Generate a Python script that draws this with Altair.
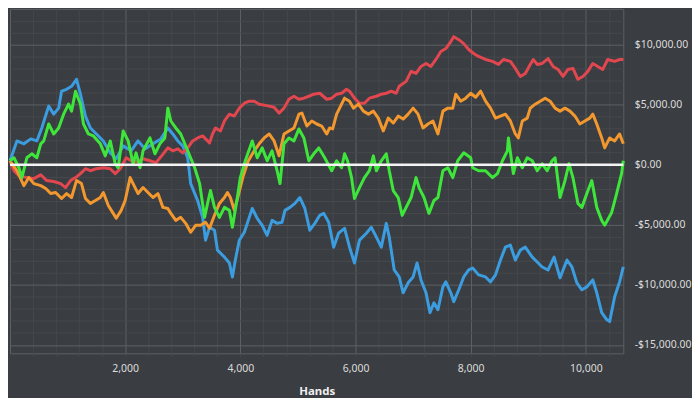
import altair as alt
import pandas as pd

# ---- data (hands played, cumulative winnings in $) ----
red_hands = [0, 69, 155, 293, 414, 534, 638, 759, 879, 965, 1052, 1138, 1224, 1310, 1396, 1500, 1621, 1741, 1827, 1914,
             2017, 2103, 2207, 2310, 2431, 2534, 2620, 2741, 2827, 2914, 3000, 3086, 3172, 3258, 3345, 3465, 3517, 3569,
             3655, 3724, 3810, 3896, 3982, 4069, 4155, 4241, 4327, 4413, 4500, 4586, 4672, 4758, 4844, 4931, 5017, 5103,
             5189, 5275, 5379, 5500, 5586, 5672, 5758, 5844, 5896, 5982, 6069, 6155, 6241, 6362, 6448, 6534, 6620, 6706,
             6758, 6879, 6965, 7051, 7137, 7224, 7310, 7396, 7482, 7568, 7655, 7706, 7793, 7879, 7965, 8051, 8137, 8258,
             8379, 8482, 8569, 8689, 8775, 8862, 8948, 9034, 9086, 9155, 9241, 9344, 9431, 9517, 9603, 9689, 9775, 9862,
             9948, 10034, 10120, 10206, 10293, 10379, 10500, 10586, 10650]
red_values = [330, -500, -910, -1070, -1160, -830, -1320, -1400, -1570, -1900, -1320, -1070, -740, -330, -500, -330, -250,
              -330, -740, -330, 580, 330, 250, 500, 330, 170, 660, 1400, 1160, 1320, 990, 1400, 1980, 2230, 2400, 1820,
              2560, 3060, 2810, 3640, 4210, 4050, 4710, 5120, 5290, 5290, 5040, 4960, 4880, 4790, 4300, 4710, 5450, 5700,
              5450, 5540, 5700, 5870, 5950, 5450, 5540, 5870, 5950, 6280, 6120, 5540, 5120, 5120, 5540, 5700, 5870, 5950,
              6120, 5950, 6530, 6940, 7770, 7600, 8180, 8430, 8180, 8760, 9420, 9670, 10250, 10660, 10410, 10080, 9590,
              9260, 9010, 8760, 8600, 8350, 8760, 8600, 8020, 7350, 7600, 8350, 8760, 8350, 8430, 8840, 8180, 7930, 7350,
              7930, 8020, 7110, 7350, 7770, 8430, 8180, 7930, 8760, 8600, 8760, 8760]

orange_hands = [0, 121, 241, 328, 414, 534, 621, 707, 793, 896, 983, 1069, 1155, 1241, 1310, 1396, 1483, 1569, 1621, 1707,
                1793, 1845, 1931, 2000, 2086, 2172, 2224, 2310, 2396, 2483, 2569, 2655, 2741, 2793, 2879, 2965, 3051, 3138,
                3224, 3310, 3396, 3465, 3551, 3637, 3724, 3776, 3827, 3896, 3965, 4051, 4138, 4241, 4327, 4413, 4500, 4586,
                4672, 4758, 4844, 4931, 5017, 5069, 5155, 5241, 5327, 5413, 5500, 5551, 5603, 5672, 5758, 5810, 5896, 5965,
                6051, 6137, 6224, 6310, 6396, 6482, 6568, 6655, 6741, 6827, 6913, 7000, 7086, 7172, 7258, 7344, 7431, 7517,
                7603, 7689, 7741, 7827, 7913, 8000, 8086, 8172, 8258, 8344, 8431, 8517, 8603, 8689, 8775, 8827, 8896, 8982,
                9034, 9120, 9207, 9293, 9379, 9465, 9551, 9637, 9724, 9810, 9896, 9982, 10068, 10120, 10189, 10275, 10327,
                10413, 10500, 10586, 10650]
orange_values = [330, -500, -1740, -1070, -1570, -1740, -1980, -2400, -2310, -2810, -2400, -2730, -1320, -1570, -2810,
                 -3220, -2980, -2730, -2310, -3390, -4050, -4460, -3800, -2980, -1070, -1900, -2400, -1900, -2310, -2730,
                 -2400, -3550, -3640, -4050, -4630, -4380, -4880, -5620, -5040, -5040, -4790, -5290, -4210, -3220, -2730,
                 -2310, -2730, -3800, -2560, -910, 330, 1160, 1740, 2230, 2560, 1980, 740, 2560, 2810, 3060, 4210, 4300,
                 3220, 3640, 3390, 3220, 2560, 3060, 2980, 4210, 5040, 5540, 5290, 4710, 5040, 4460, 4210, 4460, 3880,
                 2810, 3880, 3470, 4050, 3800, 4210, 4710, 4210, 3060, 3390, 3640, 2560, 4460, 4710, 4710, 5870, 5290,
                 5540, 5950, 5620, 6120, 5290, 4710, 3880, 4050, 4210, 3640, 2560, 2230, 3640, 3880, 4710, 5040, 5290,
                 5540, 5290, 4710, 4460, 4710, 4460, 4050, 3390, 3640, 3880, 4210, 3390, 2230, 1400, 2230, 1980, 2560, 1740]

blue_hands = [0, 121, 241, 362, 466, 552, 672, 759, 845, 896, 983, 1069, 1155, 1224, 1310, 1396, 1500, 1621, 1741, 1845,
              1965, 2103, 2224, 2345, 2483, 2620, 2741, 2827, 2914, 3000, 3086, 3138, 3258, 3345, 3396, 3465, 3551, 3603,
              3724, 3810, 3862, 3913, 3982, 4069, 4155, 4207, 4293, 4379, 4465, 4551, 4638, 4724, 4775, 4862, 4948, 5034,
              5120, 5206, 5293, 5379, 5448, 5534, 5620, 5706, 5810, 5896, 5982, 6069, 6189, 6275, 6362, 6448, 6534, 6586,
              6672, 6758, 6827, 6913, 7000, 7069, 7137, 7224, 7293, 7362, 7431, 7517, 7568, 7655, 7706, 7793, 7879, 7965,
              8034, 8137, 8258, 8344, 8431, 8517, 8603, 8689, 8775, 8862, 8948, 9069, 9155, 9241, 9344, 9448, 9551, 9672,
              9758, 9844, 9931, 10017, 10120, 10189, 10275, 10362, 10413, 10500, 10586, 10650]
blue_values = [330, 1980, 1740, 2150, 1980, 3060, 4880, 4210, 4710, 6120, 6280, 6530, 7110, 5870, 4050, 3060, 2560, 1980,
               990, 500, 1570, 1160, 1980, 1320, 1740, 2150, 3060, 2560, 1980, 1570, 580, -1570, -2980, -4380, -6280,
               -5210, -5450, -7110, -7690, -8180, -9340, -7930, -6280, -5620, -4380, -3640, -4460, -5040, -5870, -4630,
               -4880, -4790, -3800, -3550, -3220, -2730, -3640, -5450, -4880, -4210, -4050, -4790, -6860, -5700, -5290,
               -6860, -8180, -6280, -5700, -5210, -6030, -6860, -4880, -6030, -8760, -9340, -10660, -9830, -9340, -8180,
               -9590, -10660, -12310, -11490, -12070, -10170, -9750, -10660, -11400, -10410, -9340, -8760, -8600, -9170,
               -9340, -9750, -9170, -7930, -6860, -6690, -7930, -7110, -6860, -7690, -8100, -8510, -8760, -7690, -9420,
               -7930, -8510, -9830, -10410, -10170, -9590, -10660, -12310, -12890, -13060, -10990, -9750, -8510]

green_hands = [0, 69, 155, 207, 293, 379, 466, 534, 586, 672, 759, 845, 931, 1017, 1069, 1138, 1224, 1276, 1362, 1448,
               1569, 1655, 1741, 1827, 1879, 1965, 2052, 2138, 2189, 2258, 2310, 2431, 2517, 2603, 2689, 2741, 2793, 2879,
               2965, 3086, 3207, 3293, 3379, 3431, 3482, 3551, 3637, 3724, 3810, 3862, 3948, 4000, 4086, 4207, 4293, 4379,
               4465, 4551, 4638, 4689, 4758, 4844, 4931, 5017, 5103, 5189, 5275, 5362, 5465, 5586, 5672, 5758, 5810, 5862,
               5931, 5982, 6069, 6155, 6241, 6310, 6362, 6448, 6534, 6586, 6655, 6741, 6810, 6879, 6965, 7051, 7103, 7189,
               7275, 7362, 7431, 7517, 7603, 7689, 7775, 7879, 8000, 8034, 8137, 8258, 8379, 8465, 8551, 8637, 8655, 8741,
               8810, 8896, 8982, 9069, 9155, 9241, 9327, 9413, 9465, 9551, 9637, 9706, 9775, 9862, 9931, 10017, 10103,
               10189, 10275, 10327, 10448, 10534, 10620, 10650]
green_values = [330, 580, -250, -1070, 580, 910, 580, 1740, 1980, 3390, 2560, 3060, 4210, 5040, 4460, 6120, 5040, 3390,
                2560, 2400, 1740, 740, 1980, 80, -250, 2810, 1980, 80, 990, -250, 1160, 2230, 910, 1740, 2230, 4710, 3640,
                3060, 2560, 1160, -250, -1570, -4380, -3220, -2150, -3550, -4380, -3550, -3800, -5210, -2730, -1070, 330,
                1980, 580, 1400, 330, 1160, -500, -1570, 1740, 2230, 1980, 2980, 2230, 330, 910, 1400, 580, -500, 330,
                -250, 910, 330, -1070, -2810, -1900, -1070, -500, 740, -500, 330, 910, -500, -2150, -2730, -4210, -3550,
                -2730, -1070, -1900, -2730, -4050, -2980, -2730, -500, -250, -1070, 330, 990, 580, -250, -500, -500, -1070,
                -740, 330, 1160, 2230, -740, 580, -250, 580, 330, -500, 80, -500, 330, 580, -2730, -1320, 80, -1070, -3220,
                -3550, -2400, -1320, -3550, -4630, -5040, -3970, -2400, -740, 330]

# draw order (bottom to top) and colours
series = [
    ("blue", blue_hands, blue_values, "#3b9de0"),
    ("red", red_hands, red_values, "#e2474f"),
    ("orange", orange_hands, orange_values, "#f2982e"),
    ("green", green_hands, green_values, "#3ee63b"),
]

grid_x = list(range(400, 10650, 400))
grid_y = list(range(-15000, 13000, 1000))
zero_line = [0]

BG = "#3a3d41"
MAJOR = "#5e6165"
MINOR = "#47494d"
TEXT = "#dcdcdc"
FONT = "Noto Sans"

x_scale = alt.Scale(domain=[0, 10650], nice=False, zero=False)
y_scale = alt.Scale(domain=[-15700, 12975], nice=False, zero=False)

x_axis = alt.Axis(
    values=grid_x,
    title="Hands",
    labelExpr="datum.value % 2000 === 0 ? format(datum.value, ',') : ''",
    grid=True,
    gridColor={"condition": {"test": "datum.value % 2000 === 0", "value": MAJOR}, "value": MINOR},
    gridWidth=1,
    domain=False,
    ticks=True,
    tickSize=3,
    tickColor=MINOR,
    labelColor=TEXT,
    labelFont=FONT,
    labelFontSize=10.5,
    labelPadding=7,
    titleColor="#f0f0f0",
    titleFont=FONT,
    titleFontSize=11.5,
    titleFontWeight="bold",
    titlePadding=12,
)

y_axis = alt.Axis(
    values=grid_y,
    orient="right",
    title=None,
    labelExpr="datum.value % 5000 === 0 ? (datum.value < 0 ? '-' : '') + '$' + format(abs(datum.value), ',.2f') : ''",
    grid=True,
    gridColor={"condition": {"test": "datum.value % 5000 === 0", "value": MAJOR}, "value": MINOR},
    gridWidth=1,
    domain=False,
    ticks=False,
    labelColor=TEXT,
    labelFont=FONT,
    labelFontSize=10.5,
    labelPadding=11,
)

frames = []
for name, h, v, c in series:
    frames.append(pd.DataFrame({"series": name, "hands": h, "value": v, "idx": range(len(h))}))
df = pd.concat(frames, ignore_index=True)

layers = []
for name, h, v, c in series:
    layer = (
        alt.Chart(df)
        .transform_filter(alt.datum.series == name)
        .mark_line(color=c, strokeWidth=3, strokeJoin="round")
        .encode(
            x=alt.X("hands:Q", scale=x_scale, axis=x_axis),
            y=alt.Y("value:Q", scale=y_scale, axis=y_axis),
            order="idx:Q",
        )
    )
    layers.append(layer)

rule = (
    alt.Chart(pd.DataFrame({"v": zero_line}))
    .mark_rule(color="#f4f4f4", strokeWidth=2.5)
    .encode(y=alt.Y("v:Q", scale=y_scale, axis=y_axis))
)
layers.append(rule)

chart = (
    alt.layer(*layers)
    .properties(width=616, height=346, background=BG, padding={"left": 0, "top": 0, "right": 0, "bottom": 0})
    .configure_view(stroke=MAJOR, strokeWidth=1)
)

chart.save("out.html", embed_options={"renderer": "svg", "actions": False})
